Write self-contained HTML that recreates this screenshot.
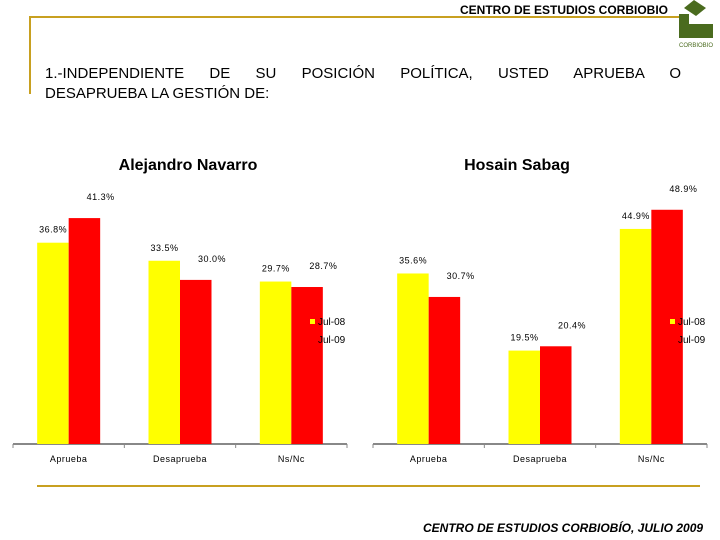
<!DOCTYPE html>
<html><head><meta charset="utf-8"><style>
body{margin:0;width:720px;height:540px;background:#fff;overflow:hidden;font-family:"Liberation Sans",sans-serif;position:relative}
.abs{position:absolute}
</style></head><body>
<div class="abs" style="left:460px;top:3px;font-size:12px;font-weight:bold;color:#000">CENTRO DE ESTUDIOS CORBIOBIO</div>
<div class="abs" style="left:30px;top:16px;width:650px;height:2px;background:#c8a020"></div>
<div class="abs" style="left:29px;top:16px;width:2px;height:78px;background:#c8a020"></div>
<svg class="abs" style="left:676px;top:0" width="44" height="52">
<polygon points="8,8 18,0 30,8 20,16" fill="#4a6b1e"/>
<rect x="3" y="14" width="10" height="24" fill="#4a6b1e"/>
<rect x="13" y="24" width="24" height="14" fill="#4a6b1e"/>
<text x="20" y="47" font-size="6" text-anchor="middle" fill="#4a6b1e" font-family="Liberation Sans">CORBIOBIO</text>
</svg>
<div class="abs" style="left:45px;top:64px;width:636px;font-size:15px;color:#000;text-align:justify;text-align-last:justify;line-height:20px">1.-INDEPENDIENTE DE SU POSICIÓN POLÍTICA, USTED APRUEBA O</div>
<div class="abs" style="left:45px;top:84px;font-size:15px;color:#000;line-height:20px">DESAPRUEBA LA GESTIÓN DE:</div>
<div class="abs" style="left:88px;top:157px;width:200px;text-align:center;font-size:16px;font-weight:bold">Alejandro Navarro</div>
<div class="abs" style="left:417px;top:157px;width:200px;text-align:center;font-size:16px;font-weight:bold">Hosain Sabag</div>
<svg class="abs" id="charts" style="left:0;top:0" width="720" height="540"></svg>
<div class="abs" style="left:37px;top:485px;width:663px;height:2px;background:#c8a020"></div>
<div class="abs" style="left:423px;top:521px;font-size:12px;font-weight:bold;font-style:italic">CENTRO DE ESTUDIOS CORBIOBÍO, JULIO 2009</div>
<script>
const categories = ["Aprueba","Desaprueba","Ns/Nc"];
const navarroJul08 = [36.8,33.5,29.7];
const navarroJul09 = [41.3,30.0,28.7];
const sabagJul08 = [35.6,19.5,44.9];
const sabagJul09 = [30.7,20.4,48.9];
const seriesNames = ["Jul-08","Jul-09"];
const svg = document.getElementById('charts');
const NS = 'http://www.w3.org/2000/svg';
function mk(tag, attrs){const e=document.createElementNS(NS,tag);for(const k in attrs)e.setAttribute(k,attrs[k]);svg.appendChild(e);return e;}
function drawChart(prefix, x0, x1, base, scale, s1, s2, legX){
  const w = (x1-x0)/categories.length;
  const ax = mk('line',{x1:x0,y1:base,x2:x1,y2:base,stroke:'#888','stroke-width':2});
  
  
  for(let i=0;i<=categories.length;i++){
    const t=mk('line',{x1:x0+i*w,y1:base,x2:x0+i*w,y2:base+4,stroke:'#888','stroke-width':1});
    
    
  }
  const y = v => base - v*scale;
  categories.forEach((c,i)=>{
    const cx = x0 + w*(i+0.5);
    [[s1,'#ffff00',-31.5],[s2,'#ff0000',0]].forEach(([s,col,off],k)=>{
      const r=mk('rect',{x:cx+off,y:y(s[i]),width:31.5,height:s[i]*scale,fill:col});
      
      
      const l=mk('text',{x:cx+off+16+(k?16:0),y:y(s[i])-(k?18:10),'font-size':9,'text-anchor':'middle',fill:'#000','letter-spacing':'0.5'});
      l.textContent=s[i].toFixed(1)+'%';
      
      
    });
    const tl=mk('text',{x:cx,y:base+18,'font-size':9,'text-anchor':'middle',fill:'#000','letter-spacing':'0.5'});
    tl.textContent=c;
    
    
  });
  const sq=mk('rect',{x:legX,y:319,width:5,height:5,fill:'#ffff00'});
  
  
  seriesNames.forEach((n,k)=>{
    const t=mk('text',{x:legX+8,y:325+k*18,'font-size':10,fill:'#000'});
    t.textContent=n;
    
    
  });
}
drawChart('navarro',13,347,444,5.47,navarroJul08,navarroJul09,310);
drawChart('sabag',373,707,444,4.79,sabagJul08,sabagJul09,670);
</script>
</body></html>
